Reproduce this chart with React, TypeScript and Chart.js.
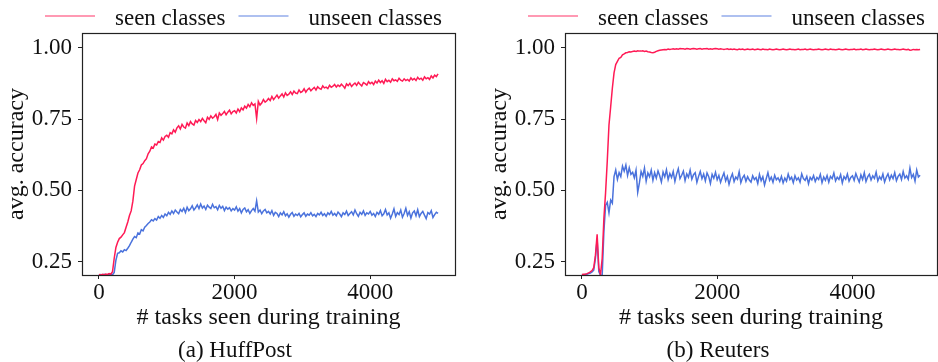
import React, { useEffect, useRef } from "react";
import { Chart, registerables } from "chart.js";

Chart.register(...registerables);

// ---- data -------------------------------------------------------------
const TASK_STEP = 25; // tasks between successive samples (0 .. 5000)
const xTickValues = [0, 2000, 4000];
const yTickValues = [0.25, 0.5, 0.75, 1.0];
const seriesNames = ["seen classes", "unseen classes"];
const panelCaptions = ["(a) HuffPost", "(b) Reuters"];

const huffSeen = [
  0.205, 0.203, 0.206, 0.204, 0.207, 0.205, 0.208, 0.206, 0.215, 0.262, 0.300, 0.318, 0.331, 0.336, 0.344, 0.352, 0.371, 0.389, 0.412, 0.428,
  0.462, 0.515, 0.538, 0.561, 0.572, 0.589, 0.594, 0.604, 0.611, 0.628, 0.637, 0.652, 0.648, 0.662, 0.659, 0.671, 0.668, 0.684, 0.676, 0.689,
  0.693, 0.686, 0.702, 0.698, 0.712, 0.704, 0.719, 0.726, 0.715, 0.731, 0.722, 0.718, 0.736, 0.727, 0.741, 0.733, 0.729, 0.745, 0.738, 0.748,
  0.741, 0.752, 0.744, 0.737, 0.756, 0.749, 0.761, 0.753, 0.758, 0.766, 0.748, 0.771, 0.763, 0.769, 0.777, 0.765, 0.774, 0.781, 0.768, 0.776,
  0.779, 0.771, 0.785, 0.776, 0.789, 0.782, 0.795, 0.788, 0.801, 0.793, 0.807, 0.798, 0.803, 0.752, 0.812, 0.799, 0.806, 0.818, 0.809, 0.814,
  0.822, 0.815, 0.829, 0.818, 0.826, 0.834, 0.823, 0.831, 0.838, 0.827, 0.842, 0.833, 0.837, 0.845, 0.836, 0.848, 0.841, 0.839, 0.852, 0.843,
  0.847, 0.856, 0.844, 0.853, 0.858, 0.849, 0.855, 0.861, 0.852, 0.863, 0.857, 0.854, 0.866, 0.859, 0.862, 0.857, 0.868, 0.861, 0.865, 0.871,
  0.862, 0.869, 0.864, 0.872, 0.866, 0.858, 0.873, 0.867, 0.875, 0.864, 0.871, 0.876, 0.868, 0.879, 0.872, 0.866, 0.878, 0.874, 0.869, 0.881,
  0.874, 0.879, 0.871, 0.883, 0.876, 0.886, 0.878, 0.884, 0.875, 0.889, 0.881, 0.886, 0.879, 0.891, 0.884, 0.887, 0.882, 0.893, 0.886, 0.883,
  0.891, 0.885, 0.889, 0.883, 0.894, 0.887, 0.892, 0.885, 0.896, 0.889, 0.893, 0.886, 0.898, 0.891, 0.895, 0.889, 0.901, 0.894, 0.904, 0.899,
  0.908,
];

const huffUnseen = [
  0.203, 0.205, 0.202, 0.206, 0.204, 0.203, 0.207, 0.205, 0.204, 0.212, 0.255, 0.279, 0.281, 0.288, 0.284, 0.292, 0.289, 0.297, 0.306, 0.318,
  0.329, 0.338, 0.334, 0.351, 0.347, 0.362, 0.358, 0.371, 0.377, 0.384, 0.389, 0.397, 0.393, 0.401, 0.396, 0.408, 0.402, 0.412, 0.405, 0.417,
  0.411, 0.423, 0.416, 0.428, 0.419, 0.431, 0.424, 0.418, 0.433, 0.426, 0.437, 0.422, 0.441, 0.429, 0.435, 0.446, 0.431, 0.439, 0.449, 0.436,
  0.452, 0.438, 0.445, 0.433, 0.448, 0.441, 0.436, 0.451, 0.439, 0.443, 0.432, 0.447, 0.437, 0.444, 0.429, 0.441, 0.434, 0.439, 0.428, 0.436,
  0.431, 0.442, 0.427, 0.436, 0.421, 0.433, 0.438, 0.425, 0.432, 0.419, 0.429, 0.436, 0.427, 0.463, 0.424, 0.431, 0.418, 0.428, 0.433, 0.421,
  0.426, 0.417, 0.429, 0.412, 0.423, 0.419, 0.408, 0.421, 0.414, 0.425, 0.411, 0.418, 0.406, 0.416, 0.422, 0.409, 0.417, 0.412, 0.419, 0.407,
  0.415, 0.421, 0.409, 0.417, 0.413, 0.422, 0.411, 0.416, 0.408, 0.419, 0.414, 0.423, 0.412, 0.418, 0.409, 0.421, 0.415, 0.426, 0.413, 0.419,
  0.411, 0.424, 0.417, 0.408, 0.421, 0.415, 0.427, 0.412, 0.419, 0.425, 0.414, 0.431, 0.418, 0.409, 0.423, 0.416, 0.428, 0.412, 0.421, 0.417,
  0.426, 0.413, 0.419, 0.408, 0.423, 0.416, 0.429, 0.411, 0.418, 0.433, 0.414, 0.421, 0.402, 0.417, 0.435, 0.409, 0.422, 0.415, 0.431, 0.406,
  0.419, 0.437, 0.412, 0.425, 0.403, 0.421, 0.428, 0.411, 0.432, 0.408, 0.419, 0.426, 0.413, 0.401, 0.422, 0.417, 0.429, 0.405, 0.415, 0.423,
  0.419,
];

const reutersSeen = [
  0.205, 0.206, 0.206, 0.208, 0.211, 0.214, 0.219, 0.229, 0.272, 0.346, 0.228, 0.204, 0.262, 0.401, 0.492, 0.603, 0.728, 0.792, 0.858, 0.912,
  0.941, 0.952, 0.963, 0.966, 0.975, 0.978, 0.982, 0.983, 0.986, 0.985, 0.987, 0.988, 0.987, 0.989, 0.988, 0.988, 0.989, 0.987, 0.988, 0.986,
  0.985, 0.983, 0.982, 0.984, 0.987, 0.989, 0.991, 0.992, 0.993, 0.994, 0.993, 0.995, 0.994, 0.995, 0.996, 0.995, 0.996, 0.995, 0.997, 0.996,
  0.996, 0.995, 0.997, 0.996, 0.995, 0.996, 0.997, 0.996, 0.995, 0.996, 0.997, 0.995, 0.996, 0.996, 0.997, 0.995, 0.996, 0.995, 0.996, 0.997,
  0.996, 0.995, 0.996, 0.995, 0.994, 0.995, 0.996, 0.994, 0.995, 0.994, 0.995, 0.994, 0.993, 0.995, 0.994, 0.995, 0.993, 0.994, 0.995, 0.994,
  0.994, 0.995, 0.993, 0.994, 0.995, 0.994, 0.993, 0.995, 0.994, 0.994, 0.993, 0.995, 0.994, 0.993, 0.994, 0.995, 0.994, 0.993, 0.994, 0.995,
  0.994, 0.993, 0.994, 0.995, 0.994, 0.994, 0.993, 0.994, 0.995, 0.993, 0.994, 0.994, 0.995, 0.993, 0.994, 0.995, 0.994, 0.993, 0.994, 0.994,
  0.995, 0.994, 0.993, 0.994, 0.995, 0.994, 0.993, 0.995, 0.994, 0.994, 0.993, 0.994, 0.995, 0.994, 0.993, 0.994, 0.995, 0.994, 0.993, 0.994,
  0.994, 0.995, 0.993, 0.994, 0.994, 0.995, 0.993, 0.994, 0.995, 0.994, 0.993, 0.994, 0.994, 0.995, 0.994, 0.993, 0.994, 0.995, 0.994, 0.993,
  0.994, 0.995, 0.994, 0.993, 0.994, 0.995, 0.994, 0.994, 0.993, 0.994, 0.995, 0.994, 0.993, 0.994, 0.991, 0.992, 0.994, 0.993, 0.994, 0.993,
  0.994,
];

const reutersUnseen = [
  0.203, 0.204, 0.205, 0.206, 0.208, 0.210, 0.214, 0.220, 0.262, 0.328, 0.215, 0.202, 0.203, 0.355, 0.447, 0.458, 0.421, 0.466, 0.455, 0.548,
  0.571, 0.538, 0.562, 0.548, 0.585, 0.567, 0.589, 0.552, 0.579, 0.556, 0.563, 0.544, 0.571, 0.493, 0.526, 0.566, 0.549, 0.578, 0.532, 0.561,
  0.548, 0.571, 0.535, 0.562, 0.543, 0.568, 0.551, 0.529, 0.564, 0.547, 0.572, 0.538, 0.559, 0.545, 0.566, 0.531, 0.557, 0.576, 0.541, 0.553,
  0.567, 0.534, 0.558, 0.546, 0.571, 0.539, 0.555, 0.562, 0.528, 0.549, 0.566, 0.541, 0.557, 0.533, 0.561, 0.548, 0.524, 0.556, 0.542, 0.563,
  0.537, 0.552, 0.528, 0.546, 0.561, 0.533, 0.549, 0.521, 0.543, 0.558, 0.531, 0.547, 0.539, 0.565, 0.527, 0.544, 0.553, 0.532, 0.548, 0.536,
  0.529, 0.551, 0.538, 0.545, 0.524, 0.556, 0.534, 0.548, 0.519, 0.541, 0.562, 0.535, 0.546, 0.528, 0.553, 0.537, 0.544, 0.531, 0.549, 0.526,
  0.543, 0.532, 0.557, 0.538, 0.546, 0.527, 0.551, 0.536, 0.544, 0.529, 0.558, 0.541, 0.535, 0.549, 0.523, 0.546, 0.537, 0.552, 0.531, 0.545,
  0.538, 0.556, 0.527, 0.547, 0.535, 0.552, 0.529, 0.549, 0.541, 0.561, 0.533, 0.546, 0.538, 0.555, 0.526, 0.548, 0.539, 0.557, 0.532, 0.545,
  0.551, 0.535, 0.559, 0.543, 0.529, 0.554, 0.538, 0.562, 0.531, 0.547, 0.556, 0.536, 0.551, 0.542, 0.564, 0.533, 0.548, 0.538, 0.557, 0.529,
  0.546, 0.558, 0.537, 0.553, 0.541, 0.562, 0.534, 0.549, 0.557, 0.538, 0.566, 0.543, 0.551, 0.539, 0.578, 0.545, 0.556, 0.532, 0.571, 0.547,
  0.553,
];

// ---- style ------------------------------------------------------------
const RED = "#ff1a55";
const BLUE = "#4a72dc";
const RED_LEGEND = "rgba(255, 26, 85, 0.6)";
const BLUE_LEGEND = "rgba(74, 114, 220, 0.6)";
const FONT = "'Liberation Serif', 'Times New Roman', serif";
const FS = 23; // tick labels, legend, captions
const FS_TITLE = 24; // axis titles
const AXIS_COLOR = "#222";

type PanelProps = {
  seen: number[];
  unseen: number[];
  caption: string;
  padLeft: number;
  padRight: number;
  left: number;
};

function Panel({ seen, unseen, caption, padLeft, padRight, left }: PanelProps) {
  const ref = useRef<HTMLCanvasElement | null>(null);

  useEffect(() => {
    const canvas = ref.current;
    if (!canvas) return;
    const toPts = (arr: number[]) => arr.map((y, i) => ({ x: i * TASK_STEP, y }));

    const deco = {
      id: "deco",
      afterDatasetsDraw(chart: any) {
        const { ctx, chartArea: ca } = chart;
        ctx.save();
        ctx.strokeStyle = AXIS_COLOR;
        ctx.lineWidth = 1.2;
        ctx.strokeRect(Math.round(ca.left) + 0.5, Math.round(ca.top) + 0.5, Math.round(ca.right - ca.left), Math.round(ca.bottom - ca.top));
        ctx.restore();
      },
      afterDraw(chart: any) {
        const { ctx, chartArea: ca } = chart;
        ctx.save();
        ctx.font = `${FS}px ${FONT}`;
        ctx.textBaseline = "alphabetic";
        ctx.textAlign = "left";
        const colors = [RED_LEGEND, BLUE_LEGEND];
        let x = ca.left - 37;
        seriesNames.forEach((name, i) => {
          ctx.strokeStyle = colors[i];
          ctx.lineWidth = 1.5;
          ctx.beginPath();
          ctx.moveTo(x, 16);
          ctx.lineTo(x + 50, 16);
          ctx.stroke();
          ctx.fillStyle = "#111";
          ctx.fillText(name, x + 70, 25);
          x += 70 + ctx.measureText(name).width + 13;
        });
        ctx.textAlign = "center";
        ctx.fillText(caption, ca.left + 153, 357);
        ctx.restore();
      },
    };

    const chart = new Chart(canvas, {
      type: "line",
      data: {
        datasets: [
          { label: seriesNames[0], data: toPts(seen), borderColor: RED, borderWidth: 1.5, pointRadius: 0, tension: 0 },
          { label: seriesNames[1], data: toPts(unseen), borderColor: BLUE, borderWidth: 1.5, pointRadius: 0, tension: 0 },
        ],
      },
      options: {
        animation: false,
        responsive: false,
        devicePixelRatio: 1,
        layout: { padding: { top: 33, bottom: 20, left: padLeft, right: padRight } },
        plugins: { legend: { display: false }, tooltip: { enabled: false }, title: { display: false } },
        scales: {
          x: {
            type: "linear",
            min: -250,
            max: 5250,
            afterFit: (s: any) => { s.height = 67; },
            afterBuildTicks: (s: any) => { s.ticks = xTickValues.map((v) => ({ value: v })); },
            ticks: { color: "#111", font: { family: FONT, size: FS }, padding: 0, maxRotation: 0, callback: (v: any) => String(v) },
            grid: { drawOnChartArea: false, drawTicks: true, tickLength: 4, color: AXIS_COLOR },
            border: { display: false },
            title: { display: true, text: "# tasks seen during training", color: "#111", font: { family: FONT, size: FS_TITLE }, padding: { top: 0, bottom: 10 } },
          },
          y: {
            type: "linear",
            min: 0.2033,
            max: 1.0515,
            afterFit: (s: any) => { s.width = 82; },
            afterBuildTicks: (s: any) => { s.ticks = yTickValues.map((v) => ({ value: v })); },
            ticks: { color: "#111", font: { family: FONT, size: FS }, padding: 6, callback: (v: any) => Number(v).toFixed(2) },
            grid: { drawOnChartArea: false, drawTicks: true, tickLength: 4, color: AXIS_COLOR },
            border: { display: false },
            title: { display: true, text: "avg. accuracy", color: "#111", font: { family: FONT, size: FS_TITLE }, padding: { top: 2, bottom: 0 } },
          },
        },
      },
      plugins: [deco],
    } as any);

    return () => chart.destroy();
  }, [seen, unseen, caption, padLeft, padRight]);

  return (
    <canvas
      ref={ref}
      width={469}
      height={362}
      style={{ position: "absolute", left, top: 0, width: 469, height: 362 }}
    />
  );
}

export default function App() {
  return (
    <div style={{ position: "absolute", left: 0, top: 0, width: 938, height: 362, background: "#fff", overflow: "hidden" }}>
      <Panel seen={huffSeen} unseen={huffUnseen} caption={panelCaptions[0]} padLeft={0} padRight={14} left={0} />
      <Panel seen={reutersSeen} unseen={reutersUnseen} caption={panelCaptions[1]} padLeft={14} padRight={1} left={469} />
    </div>
  );
}
